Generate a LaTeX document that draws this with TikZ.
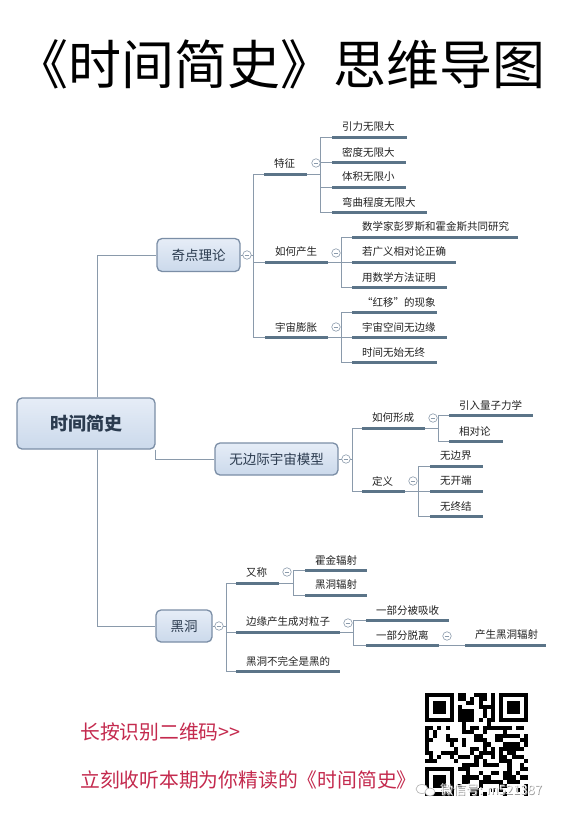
\documentclass[tikz,border=0pt]{standalone}
\usepackage{fontspec}
\setmainfont{Noto Sans CJK SC}
\usetikzlibrary{calc}
\definecolor{linec}{HTML}{8A9AAB}
\definecolor{barc}{HTML}{5B7488}
\definecolor{boxtop}{HTML}{E6EDF7}
\definecolor{boxbot}{HTML}{CBD9EB}
\definecolor{boxline}{HTML}{7B8EA6}
\definecolor{boxtext}{HTML}{2B3B4F}
\definecolor{subc}{HTML}{222222}
\definecolor{foldc}{HTML}{8A9AAB}
\definecolor{redc}{HTML}{C42A4E}
\tikzset{
  conn/.style={draw=linec, line width=0.9pt},
  bar/.style={draw=barc, line width=3pt},
  topic/.style={rounded corners=5pt, draw=boxline, line width=1.3pt, top color=boxtop, bottom color=boxbot, text=boxtext, font=\fontsize{13.5}{13.5}\selectfont, inner sep=0pt},
  subtext/.style={font=\fontsize{10.5}{10.5}\selectfont, text=subc, inner sep=0pt, anchor=west},
  fold/.style={circle, draw=foldc, fill=white, line width=0.6pt, minimum size=8.5pt, inner sep=0pt,
    path picture={\draw[foldc, line width=0.6pt] ([xshift=-2.3pt]path picture bounding box.center) -- ([xshift=2.3pt]path picture bounding box.center);}},
  redtext/.style={font=\fontsize{19.8}{19.8}\selectfont, text=redc, inner sep=0pt, anchor=west}
}
% name, bar start x, bar end x, bar y, text
\newcommand\mmsub[5]{%
  \coordinate (#1-b) at (#2,#4);
  \coordinate (#1-r) at (#3,#4);
  \node[subtext] (#1) at ({#2+10},{#4-10}) {#5};
  \draw[bar] (#1-b) -- (#1-r);
}
\begin{document}
\begin{tikzpicture}[x=1pt,y=-1pt]
\fill[white] (0,0) rectangle (566,817);
\useasboundingbox (0,0) rectangle (566,817);

% title
\node[font=\fontsize{53}{53}\selectfont, inner sep=0pt] (title) at (281,64) {《时间简史》思维导图};

% root and main topics
\node[topic, minimum width=138pt, minimum height=51pt, font=\fontsize{18}{18}\selectfont\bfseries] (root) at (86,423.5) {时间简史};
\node[topic, minimum width=83pt, minimum height=33pt] (qd) at (198.5,255) {奇点理论};
\node[topic, minimum width=123pt, minimum height=32pt] (wj) at (276.5,459) {无边际宇宙模型};
\node[topic, minimum width=56pt, minimum height=32pt] (hd) at (184,626) {黑洞};

\draw[conn] ([xshift=11pt]root.north) |- (qd.west);
\draw[conn] ([xshift=11pt]root.south) |- (hd.west);
\draw[conn] (root.south east) |- (wj.west);

% ---------- 奇点理论 ----------
\coordinate (qd-v) at (253,255);
\draw[conn] (qd.east) -- (qd-v);
\node[fold] (qd-f) at (247,255) {};
\mmsub{tz}{264}{307}{174}{特征}
\mmsub{rh}{265}{328}{262}{如何产生}
\mmsub{yz}{265}{328}{337}{宇宙膨胀}
\foreach \s in {tz,rh,yz} \draw[conn] (qd-v) |- (\s-b);

\coordinate (tz-v) at (320,174);
\draw[conn] (tz-r) -- (tz-v);
\node[fold] (tz-f) at (316,163) {};
\mmsub{tz1}{332}{407}{137}{引力无限大}
\mmsub{tz2}{332}{406}{162}{密度无限大}
\mmsub{tz3}{332}{406}{187}{体积无限小}
\mmsub{tz4}{332}{427}{212}{弯曲程度无限大}
\foreach \s in {tz1,tz2,tz3,tz4} \draw[conn] (tz-v) |- (\s-b);

\coordinate (rh-v) at (341,262);
\draw[conn] (rh-r) -- (rh-v);
\node[fold] (rh-f) at (336,253) {};
\mmsub{rh1}{352}{518}{237}{数学家彭罗斯和霍金斯共同研究}
\mmsub{rh2}{352}{456}{262}{若广义相对论正确}
\mmsub{rh3}{352}{447}{287}{用数学方法证明}
\foreach \s in {rh1,rh2,rh3} \draw[conn] (rh-v) |- (\s-b);

\coordinate (yz-v) at (341,337);
\draw[conn] (yz-r) -- (yz-v);
\node[fold] (yz-f) at (336,327) {};
\mmsub{yz1}{352}{437}{312}{“红移”的现象}
\mmsub{yz2}{352}{447}{337}{宇宙空间无边缘}
\mmsub{yz3}{352}{437}{362}{时间无始无终}
\foreach \s in {yz1,yz2,yz3} \draw[conn] (yz-v) |- (\s-b);

% ---------- 无边际宇宙模型 ----------
\coordinate (wj-v) at (352,459);
\draw[conn] (wj.east) -- (wj-v);
\node[fold] (wj-f) at (346,459) {};
\mmsub{rx}{362}{425}{428}{如何形成}
\mmsub{dy}{362}{405}{491}{定义}
\foreach \s in {rx,dy} \draw[conn] (wj-v) |- (\s-b);

\coordinate (rx-v) at (438,428);
\draw[conn] (rx-r) -- (rx-v);
\node[fold] (rx-f) at (433,418) {};
\mmsub{rx1}{449}{533}{415}{引入量子力学}
\mmsub{rx2}{449}{503}{441}{相对论}
\foreach \s in {rx1,rx2} \draw[conn] (rx-v) |- (\s-b);

\coordinate (dy-v) at (418,491);
\draw[conn] (dy-r) -- (dy-v);
\node[fold] (dy-f) at (413,481) {};
\mmsub{dy1}{430}{483}{466}{无边界}
\mmsub{dy2}{430}{483}{491}{无开端}
\mmsub{dy3}{430}{483}{516}{无终结}
\foreach \s in {dy1,dy2,dy3} \draw[conn] (dy-v) |- (\s-b);

% ---------- 黑洞 ----------
\coordinate (hd-v) at (226,626);
\draw[conn] (hd.east) -- (hd-v);
\node[fold] (hd-f) at (219,626) {};
\mmsub{yc}{236}{279}{583}{又称}
\mmsub{by}{236}{340}{632}{边缘产生成对粒子}
\mmsub{bq}{236}{340}{671}{黑洞不完全是黑的}
\foreach \s in {yc,by,bq} \draw[conn] (hd-v) |- (\s-b);

\coordinate (yc-v) at (293,583);
\draw[conn] (yc-r) -- (yc-v);
\node[fold] (yc-f) at (287,572) {};
\mmsub{yc1}{305}{367}{570}{霍金辐射}
\mmsub{yc2}{305}{367}{595}{黑洞辐射}
\foreach \s in {yc1,yc2} \draw[conn] (yc-v) |- (\s-b);

\coordinate (by-v) at (353,632);
\draw[conn] (by-r) -- (by-v);
\node[fold] (by-f) at (348,623) {};
\mmsub{by1}{366}{449}{620}{一部分被吸收}
\mmsub{by2}{366}{439}{645}{一部分脱离}
\foreach \s in {by1,by2} \draw[conn] (by-v) |- (\s-b);

\node[fold] (by2-f) at (447,636) {};
\mmsub{hf}{465}{546}{645}{产生黑洞辐射}
\draw[conn] (by2-r) -- (hf-b);

% ---------- bottom texts ----------
\node[redtext] (t1) at (80,732) {长按识别二维码>{}>};
\node[redtext] (t2) at (80,780) {立刻收听本期为你精读的《时间简史》};

% ---------- QR code ----------
\def\qm{4.12}
\fill[white] (423,691) rectangle (530,797);
\pgfmathsetseed{4242}
\foreach \i in {0,...,24}{\foreach \j in {0,...,24}{
  \pgfmathtruncatemacro\q{and(rnd<0.5,not(or(and(\i<8,\j<8),or(and(\i>16,\j<8),and(\i<8,\j>16)))))}
  \ifnum\q=1 \fill[black] ({425+\i*\qm},{693+\j*\qm}) rectangle ++(\qm,\qm);\fi
}}
\fill[white] (425,693) rectangle ++({8*\qm},{8*\qm});
\fill[white] ({425+17*\qm},693) rectangle ++({8*\qm},{8*\qm});
\fill[white] (425,{693+17*\qm}) rectangle ++({8*\qm},{8*\qm});
\foreach \fx/\fy in {0/0,18/0,0/18}{
  \fill[black] ({425+\fx*\qm},{693+\fy*\qm}) rectangle ++({7*\qm},{7*\qm});
  \fill[white] ({425+(\fx+1)*\qm},{693+(\fy+1)*\qm}) rectangle ++({5*\qm},{5*\qm});
  \fill[black] ({425+(\fx+2)*\qm},{693+(\fy+2)*\qm}) rectangle ++({3*\qm},{3*\qm});
}

% watermark
\draw[gray!60, line width=0.6pt, fill=white] (422,789) ellipse (6pt and 4.5pt);
\draw[gray!60, line width=0.6pt, fill=white] (430,792) ellipse (5pt and 4pt);
\node[font=\fontsize{13}{13}\selectfont, text=gray!80, inner sep=0pt, anchor=west] (wms) at (440.7,790.7) {微信号: m521387};
\node[font=\fontsize{13}{13}\selectfont, text=white, inner sep=0pt, anchor=west] (wm) at (440,790) {微信号: m521387};
\end{tikzpicture}
\end{document}
